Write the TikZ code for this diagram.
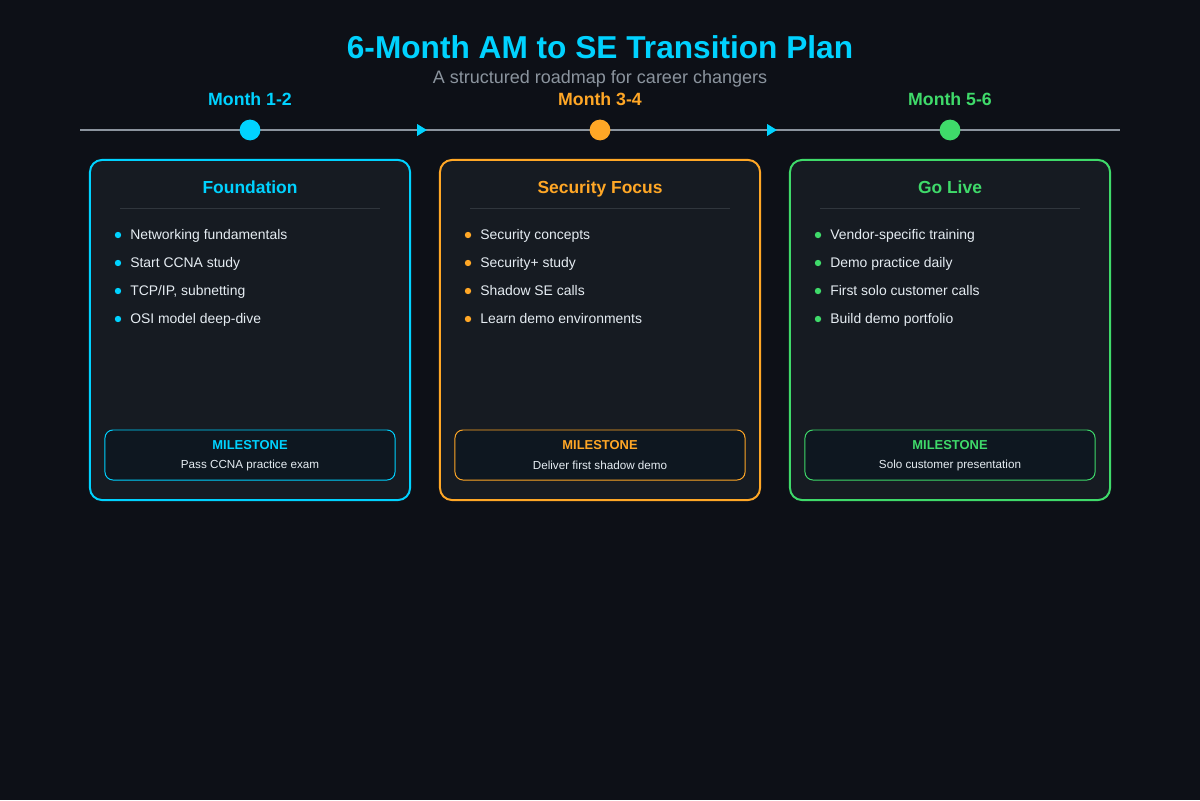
\documentclass[tikz,border=0pt]{standalone}
\usepackage{fontspec}
\setmainfont{Liberation Sans}
\usetikzlibrary{positioning, arrows.meta}
\definecolor{bgdark}{HTML}{0D1017}
\definecolor{cardbg}{HTML}{161B22}
\definecolor{msfill}{HTML}{0E1720}
\definecolor{rulegray}{HTML}{30363D}
\definecolor{linegray}{HTML}{8B949E}
\definecolor{textlight}{HTML}{E6EDF3}
\definecolor{phaseone}{HTML}{00D2FF}
\definecolor{phasetwo}{HTML}{FFA726}
\definecolor{phasethree}{HTML}{3FDA6A}

\begin{document}
\begin{tikzpicture}[x=0.025cm, y=-0.025cm,
  timeline/.style={draw=linegray, line width=2.1pt},
  phasedot/.style={circle, fill=#1, minimum size=0.52cm, inner sep=0pt},
  monthlabel/.style={text=#1, font=\fontsize{12.6}{15}\selectfont\bfseries},
  card/.style={rectangle, draw=#1, line width=1.4pt, fill=cardbg, rounded corners=0.3cm, minimum width=8cm, minimum height=8.5cm},
  cardtitle/.style={text=#1, text height=1.6ex, text depth=0.3ex, font=\fontsize{12.4}{15}\selectfont\bfseries},
  sepline/.style={draw=rulegray, line width=0.7pt},
  bulletdot/.style={circle, fill=#1, minimum size=0.16cm, inner sep=0pt},
  item/.style={anchor=west, text=textlight, inner sep=0pt, text height=1.6ex, text depth=0.3ex, font=\fontsize{9.9}{12}\selectfont},
  msbox/.style={rectangle, draw=#1, line width=0.7pt, fill=msfill, rounded corners=0.2cm, minimum width=7.25cm, minimum height=1.25cm},
  mshead/.style={text=#1, font=\fontsize{9.2}{11}\selectfont\bfseries},
  mstext/.style={text=textlight, font=\fontsize{8.3}{10}\selectfont}
]
% Background
\fill[bgdark] (0,0) rectangle (1200,800);

% Header
\node[text=phaseone, font=\fontsize{22.5}{27}\selectfont\bfseries] (title) at (600,47) {6-Month AM to SE Transition Plan};
\node[text=linegray, font=\fontsize{12.8}{15}\selectfont] (subtitle) at (600,79) {A structured roadmap for career changers};

% Timeline
\coordinate (tlstart) at (80,130);
\coordinate (tlend) at (1120,130);
\coordinate (arr1) at (427,130);
\coordinate (arr2) at (777,130);
\draw[timeline] (tlstart) -- (tlend);
\node[phasedot=phaseone] (dot1) at (250,130) {};
\node[phasedot=phasetwo] (dot2) at (600,130) {};
\node[phasedot=phasethree] (dot3) at (950,130) {};
\draw[timeline, -{Triangle[length=7pt, width=8pt, color=phaseone]}] (dot1) -- (arr1);
\draw[timeline, -{Triangle[length=7pt, width=8pt, color=phaseone]}] (dot2) -- (arr2);
\node[monthlabel=phaseone] (month1) at (250,99) {Month 1-2};
\node[monthlabel=phasetwo] (month2) at (600,99) {Month 3-4};
\node[monthlabel=phasethree] (month3) at (950,99) {Month 5-6};

% Phase 1
\node[card=phaseone] (card1) at (250,330) {};
\node[cardtitle=phaseone] (title1) at (250,189) {Foundation};
\draw[sepline] (120,208) -- (380,208);
\foreach \txt [count=\i] in {Networking fundamentals, Start CCNA study, {TCP/IP, subnetting}, OSI model deep-dive} {
  \node[bulletdot=phaseone] (p1dot\i) at (118,207+28*\i) {};
  \node[item] (p1item\i) at (130,207+28*\i) {\txt};
}
\node[msbox=phaseone] (ms1) at (250,455) {};
\node[mshead=phaseone] (ms1head) at (250,445) {MILESTONE};
\node[mstext] (ms1text) at (250,465) {Pass CCNA practice exam};

% Phase 2
\node[card=phasetwo] (card2) at (600,330) {};
\node[cardtitle=phasetwo] (title2) at (600,189) {Security Focus};
\draw[sepline] (470,208) -- (730,208);
\foreach \txt [count=\i] in {Security concepts, Security+ study, Shadow SE calls, Learn demo environments} {
  \node[bulletdot=phasetwo] (p2dot\i) at (468,207+28*\i) {};
  \node[item] (p2item\i) at (480,207+28*\i) {\txt};
}
\node[msbox=phasetwo] (ms2) at (600,455) {};
\node[mshead=phasetwo] (ms2head) at (600,445) {MILESTONE};
\node[mstext] (ms2text) at (600,465) {Deliver first shadow demo};

% Phase 3
\node[card=phasethree] (card3) at (950,330) {};
\node[cardtitle=phasethree] (title3) at (950,189) {Go Live};
\draw[sepline] (820,208) -- (1080,208);
\foreach \txt [count=\i] in {Vendor-specific training, Demo practice daily, First solo customer calls, Build demo portfolio} {
  \node[bulletdot=phasethree] (p3dot\i) at (818,207+28*\i) {};
  \node[item] (p3item\i) at (830,207+28*\i) {\txt};
}
\node[msbox=phasethree] (ms3) at (950,455) {};
\node[mshead=phasethree] (ms3head) at (950,445) {MILESTONE};
\node[mstext] (ms3text) at (950,465) {Solo customer presentation};

\end{tikzpicture}
\end{document}
